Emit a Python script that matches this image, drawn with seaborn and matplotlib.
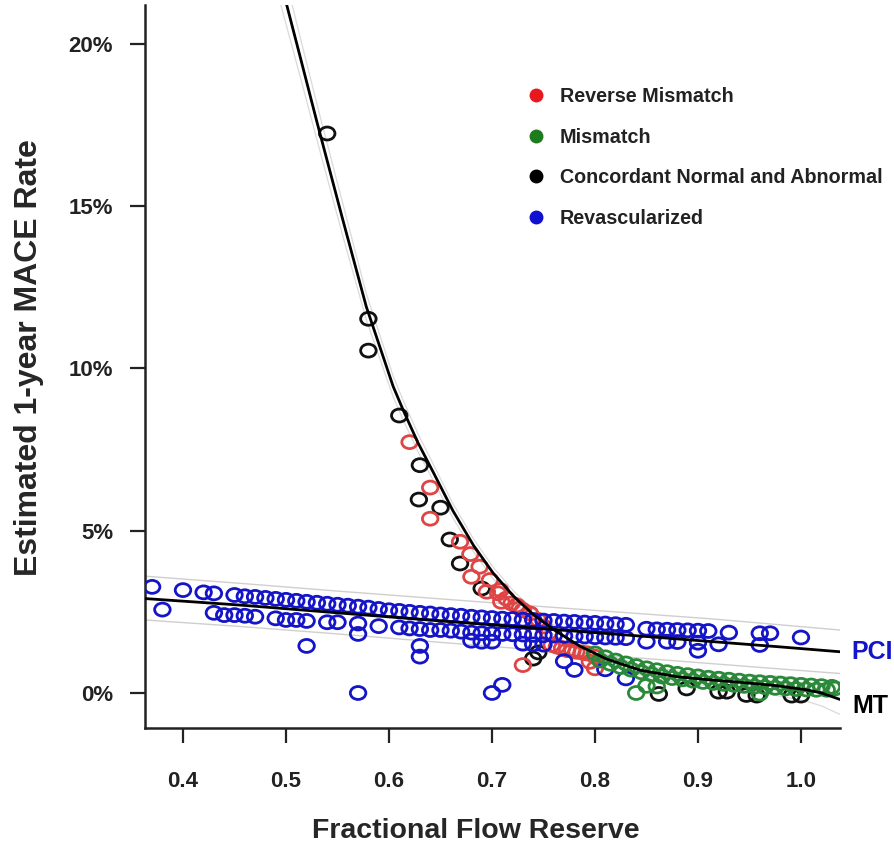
import numpy as np
import pandas as pd
import matplotlib
matplotlib.use("Agg")
import matplotlib.pyplot as plt
from matplotlib.path import Path
from matplotlib.lines import Line2D
import seaborn as sns

# ---------------- data ----------------
# Model curves (estimated 1-year MACE rate, %)
mt_x = [0.495, 0.515, 0.530, 0.555, 0.578, 0.595, 0.604, 0.614, 0.628, 0.643, 0.662, 0.682,
        0.701, 0.721, 0.740, 0.760, 0.785, 0.811, 0.844, 0.880, 0.910, 0.941, 0.975, 1.005,
        1.020, 1.038]
mt_y = [21.9, 19.45, 17.6, 14.6, 11.9, 10.3, 9.45, 8.7, 7.72, 6.8, 5.62, 4.55,
        3.70, 2.98, 2.42, 1.95, 1.45, 1.05, 0.70, 0.50, 0.41, 0.33, 0.23, 0.10,
        0.00, -0.20]
mt_hi = [22.6, 20.05, 18.15, 15.1, 12.3, 10.65, 9.77, 9.0, 8.0, 7.05, 5.84, 4.75,
         3.88, 3.14, 2.57, 2.10, 1.60, 1.20, 0.86, 0.68, 0.61, 0.57, 0.53, 0.45,
         0.40, 0.26]
mt_lo = [21.2, 18.85, 17.05, 14.1, 11.5, 9.95, 9.13, 8.4, 7.44, 6.55, 5.40, 4.35,
         3.52, 2.82, 2.27, 1.80, 1.30, 0.90, 0.54, 0.32, 0.21, 0.09, -0.07, -0.25,
         -0.40, -0.66]

pci_x = [0.363, 0.455, 0.55, 0.65, 0.75, 0.85, 0.915, 0.98, 1.038]
pci_y = [2.91, 2.71, 2.47, 2.22, 1.98, 1.74, 1.58, 1.42, 1.27]
pci_hi = [3.60, 3.38, 3.14, 2.90, 2.66, 2.43, 2.28, 2.10, 1.94]
pci_lo = [2.25, 2.05, 1.82, 1.56, 1.31, 1.06, 0.90, 0.74, 0.60]

# Revascularized (blue)
blue_x = [0.37, 0.40, 0.42, 0.43, 0.45, 0.46, 0.47, 0.48, 0.49, 0.50, 0.51, 0.52, 0.53, 0.54,
          0.55, 0.56, 0.57, 0.58, 0.59, 0.60, 0.61, 0.62, 0.63, 0.64, 0.65, 0.66, 0.67, 0.68,
          0.69, 0.70, 0.71, 0.72, 0.73, 0.74, 0.75, 0.76, 0.77, 0.78, 0.79, 0.80, 0.81, 0.82,
          0.83, 0.85, 0.86, 0.87, 0.88, 0.89, 0.90, 0.91, 0.93, 0.96, 0.97, 1.00,
          0.38, 0.43, 0.44, 0.45, 0.46, 0.47, 0.49, 0.50, 0.51, 0.52, 0.54, 0.55, 0.57, 0.59,
          0.61, 0.62, 0.63, 0.64, 0.65, 0.66, 0.67, 0.68, 0.69, 0.70, 0.71, 0.72, 0.73, 0.74,
          0.75, 0.76, 0.77, 0.78, 0.79, 0.80, 0.81, 0.82, 0.83, 0.85, 0.87, 0.88, 0.90, 0.92, 0.96,
          0.57, 0.52, 0.63, 0.63, 0.57, 0.68, 0.69, 0.70, 0.73, 0.74, 0.75,
          0.70, 0.71, 0.77, 0.78, 0.81, 0.83, 0.90]
blue_y = [3.27, 3.17, 3.10, 3.07, 3.02, 2.98, 2.96, 2.93, 2.90, 2.87, 2.84, 2.81, 2.78, 2.75,
          2.72, 2.69, 2.66, 2.63, 2.59, 2.55, 2.53, 2.50, 2.47, 2.45, 2.42, 2.40, 2.38, 2.35,
          2.33, 2.31, 2.29, 2.28, 2.26, 2.25, 2.23, 2.22, 2.20, 2.19, 2.17, 2.16, 2.14, 2.12,
          2.10, 1.98, 1.96, 1.95, 1.94, 1.93, 1.92, 1.91, 1.86, 1.84, 1.84, 1.71,
          2.57, 2.47, 2.40, 2.40, 2.38, 2.35, 2.30, 2.25, 2.25, 2.22, 2.18, 2.18, 2.14, 2.06,
          2.02, 1.99, 1.97, 1.94, 1.94, 1.92, 1.89, 1.86, 1.84, 1.83, 1.82, 1.81, 1.80, 1.79,
          1.78, 1.77, 1.76, 1.75, 1.74, 1.72, 1.71, 1.70, 1.69, 1.58, 1.58, 1.57, 1.55, 1.50, 1.48,
          1.82, 1.45, 1.45, 1.12, 0.00, 1.61, 1.58, 1.58, 1.52, 1.50, 1.49,
          0.00, 0.25, 0.98, 0.71, 0.73, 0.45, 1.30]

# Reverse Mismatch (red)
red_x = [0.620, 0.640, 0.640, 0.669, 0.679, 0.688, 0.680, 0.698, 0.695, 0.708, 0.706, 0.709,
         0.714, 0.719, 0.724, 0.727, 0.730, 0.737, 0.745, 0.750, 0.755, 0.758, 0.763, 0.768,
         0.773, 0.778, 0.782, 0.787, 0.792, 0.795, 0.800, 0.800, 0.730]
red_y = [7.73, 6.33, 5.37, 4.66, 4.28, 3.89, 3.58, 3.48, 3.12, 3.17, 3.07, 2.81,
         2.91, 2.76, 2.70, 2.61, 2.55, 2.45, 2.25, 2.05, 1.85, 1.48, 1.43, 1.38,
         1.32, 1.30, 1.27, 1.25, 1.22, 0.96, 1.12, 0.76, 0.86]

# Concordant Normal and Abnormal (black)
black_x = [0.540, 0.580, 0.580, 0.610, 0.630, 0.629, 0.650, 0.659, 0.669, 0.690, 0.740, 0.745,
           0.862, 0.889, 0.920, 0.928, 0.947, 0.957, 0.991, 1.000]
black_y = [17.24, 11.53, 10.55, 8.55, 7.02, 5.96, 5.71, 4.73, 3.99, 3.22, 1.06, 1.25,
           -0.03, 0.14, 0.04, 0.04, -0.06, -0.08, -0.08, -0.08]

# Mismatch (green)
green_x = [0.80, 0.81, 0.82, 0.83, 0.84, 0.85, 0.86, 0.87, 0.88, 0.89, 0.90, 0.91,
           0.92, 0.93, 0.94, 0.95, 0.96, 0.97, 0.98, 0.99, 1.00, 1.01, 1.02, 1.03,
           0.805, 0.815, 0.825, 0.835, 0.845, 0.855, 0.865, 0.875, 0.885, 0.895, 0.905, 0.915,
           0.925, 0.935, 0.945, 0.955, 0.965, 0.975, 0.985, 0.995, 1.005, 1.015, 1.025, 1.033,
           0.840, 0.850, 0.860, 0.960]
green_y = [1.22, 1.10, 1.00, 0.91, 0.83, 0.76, 0.70, 0.64, 0.59, 0.55, 0.51, 0.47,
           0.44, 0.41, 0.38, 0.35, 0.33, 0.31, 0.29, 0.27, 0.25, 0.23, 0.21, 0.19,
           1.00, 0.90, 0.80, 0.72, 0.64, 0.57, 0.51, 0.46, 0.42, 0.38, 0.34, 0.31,
           0.28, 0.25, 0.22, 0.20, 0.18, 0.16, 0.14, 0.12, 0.11, 0.10, 0.10, 0.14,
           0.00, 0.22, 0.20, -0.02]

categories = ["Reverse Mismatch", "Mismatch", "Concordant Normal and Abnormal", "Revascularized"]
legend_colors = ["#E8191E", "#1E7B1E", "#000000", "#1010D0"]
point_colors = {"Reverse Mismatch": "#E04545", "Mismatch": "#2A8A3A",
                "Concordant Normal and Abnormal": "#111111", "Revascularized": "#1414C8"}

x_ticks = [0.4, 0.5, 0.6, 0.7, 0.8, 0.9, 1.0]
x_ticklabels = ["0.4", "0.5", "0.6", "0.7", "0.8", "0.9", "1.0"]
y_ticks = [0, 5, 10, 15, 20]
y_ticklabels = ["0%", "5%", "10%", "15%", "20%"]

# ---------------- style ----------------
sns.set_style("ticks")
plt.rcParams["font.family"] = ["Liberation Sans", "DejaVu Sans"]
plt.rcParams["font.weight"] = "bold"

fig = plt.figure(figsize=(8.95, 8.47), dpi=100)
ax = fig.add_axes([145 / 895, (847 - 728) / 847, 695 / 895, 723 / 847])

uc = Path.unit_circle()
ellipse = Path(uc.vertices * np.array([1.2, 1.0]), uc.codes)

groups = [
    ("Concordant Normal and Abnormal", black_x, black_y),
    ("Reverse Mismatch", red_x, red_y),
    ("Revascularized", blue_x, blue_y),
    ("Mismatch", green_x, green_y),
]
for name, xs, ys in groups:
    df = pd.DataFrame({"ffr": xs, "rate": ys})
    sns.scatterplot(data=df, x="ffr", y="rate", ax=ax, marker=ellipse, s=125,
                    facecolor="none", edgecolor=point_colors[name], linewidth=2.0,
                    legend=False, zorder=3)

# confidence bands (thin gray)
for xs, ys in [(mt_x, mt_hi), (mt_x, mt_lo)]:
    sns.lineplot(x=xs, y=ys, ax=ax, color="#DADADA", linewidth=0.9, sort=False,
                 estimator=None, zorder=2)
for xs, ys in [(pci_x, pci_hi), (pci_x, pci_lo)]:
    sns.lineplot(x=xs, y=ys, ax=ax, color="#CFCFCF", linewidth=1.0, sort=False,
                 estimator=None, zorder=2)

# model curves
sns.lineplot(x=mt_x, y=mt_y, ax=ax, color="black", linewidth=2.0, sort=False,
             estimator=None, zorder=4)
sns.lineplot(x=pci_x, y=pci_y, ax=ax, color="black", linewidth=2.0, sort=False,
             estimator=None, zorder=4)

ax.set_xlim(0.3631, 1.0379)
ax.set_ylim(-1.079, 21.2)
ax.set_xticks(x_ticks)
ax.set_xticklabels(x_ticklabels, fontsize=16, fontweight="bold")
ax.set_yticks(y_ticks)
ax.set_yticklabels(y_ticklabels, fontsize=16, fontweight="bold")
ax.tick_params(axis="both", direction="out", length=11, width=1.6, colors="#222222",
               labelcolor="#222222")
ax.tick_params(axis="x", pad=20)
ax.tick_params(axis="y", pad=12)
for side in ["top", "right"]:
    ax.spines[side].set_visible(False)
for side in ["left", "bottom"]:
    ax.spines[side].set_linewidth(1.8)
    ax.spines[side].set_color("#222222")

ax.set_xlabel("Fractional Flow Reserve", fontsize=20.5, fontweight="bold")
ax.set_ylabel("Estimated 1-year MACE Rate", fontsize=23, fontweight="bold")
ax.xaxis.set_label_coords(0.476, -0.1245)
ax.yaxis.set_label_coords(-0.145, 0.513)

ax.text(1.0485, 1.27, "PCI", color="#1414C8", fontsize=18, fontweight="bold",
        ha="left", va="center", clip_on=False)
ax.text(1.0495, -0.40, "MT", color="black", fontsize=18, fontweight="bold",
        ha="left", va="center", clip_on=False)

handles = [Line2D([], [], linestyle="none", marker="o", markersize=9,
                  markerfacecolor=c, markeredgecolor=c) for c in legend_colors]
leg = fig.legend(handles, categories, loc="upper left",
                 bbox_to_anchor=(526 / 895, (847 - 87) / 847), bbox_transform=fig.transFigure,
                 frameon=False, prop={"weight": "bold", "size": 14.2},
                 handlelength=1.0, handletextpad=0.7, labelspacing=1.1,
                 borderpad=0, borderaxespad=0)
for t in leg.get_texts():
    t.set_color("#222222")

fig.savefig("out.png", dpi=100)
